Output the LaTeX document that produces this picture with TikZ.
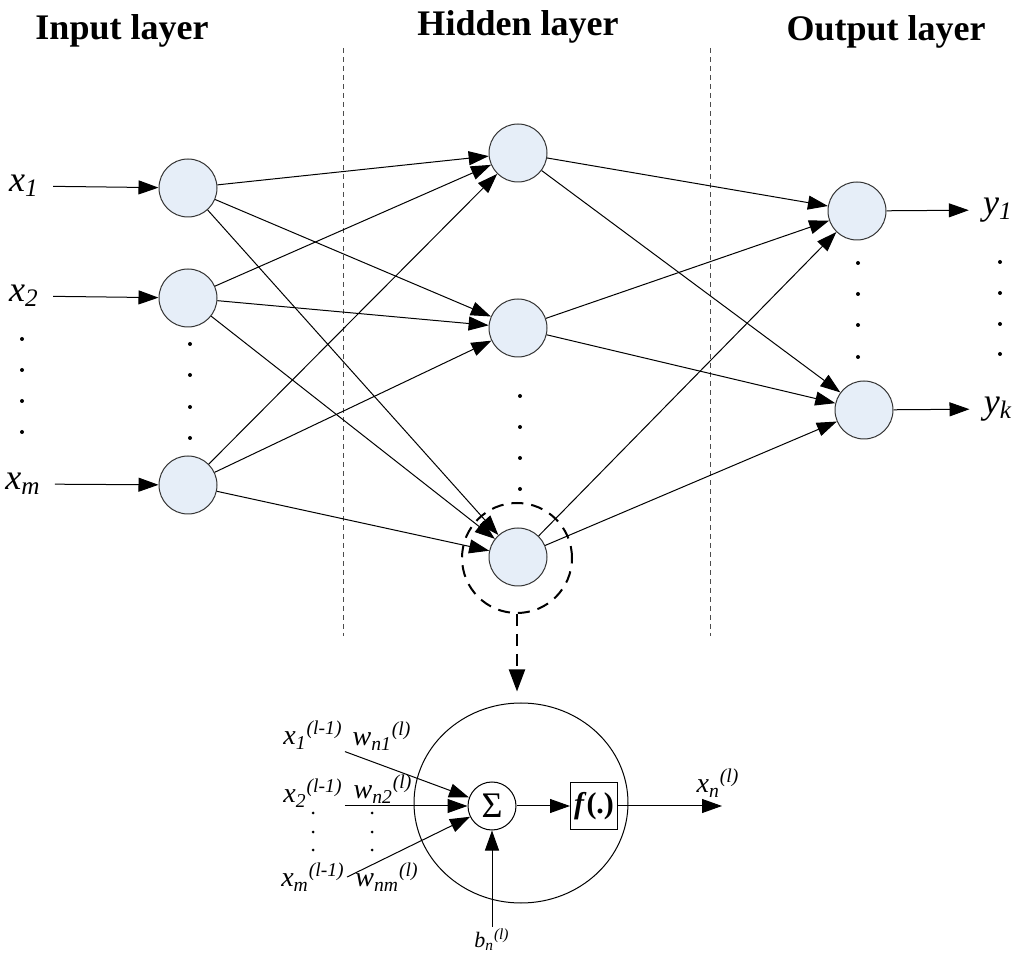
\documentclass[tikz,border=0pt]{standalone}
\usepackage{fontspec}
\setmainfont{Liberation Serif}
\usepackage{tikz}
\usetikzlibrary{arrows.meta, shapes.geometric}
\definecolor{cellblue}{RGB}{230,238,248}
\tikzstyle{neuron} = [circle, draw=black!80, fill=cellblue, line width=0.5pt, minimum size=29pt, inner sep=0pt]
\tikzstyle{title} = [font=\fontsize{18}{20}\selectfont\bfseries]
\tikzstyle{var} = [font=\fontsize{18}{20}\selectfont\itshape, inner sep=1pt]
\tikzstyle{small} = [font=\fontsize{14}{16}\selectfont\itshape, inner sep=1pt]
\tikzstyle{link} = [-{Triangle[length=10pt,width=7pt]}, line width=0.5pt]
\tikzstyle{divider} = [line width=0.4pt, dash pattern=on 2.5pt off 2pt, black!70]

\begin{document}
\begin{tikzpicture}[x=0.5pt, y=-0.5pt]

        \useasboundingbox (0,0) rectangle (1024,962);

        % titles
        \node (tin) [title] at (122,31) {Input layer};
        \node (thid) [title] at (518,27) {Hidden layer};
        \node (tout) [title] at (886,32) {Output layer};

        \draw[divider] (343,48) -- (343,636);
        \draw[divider] (710,48) -- (710,636);

        % neurons
        \node (in1) [neuron] at (188,188) {};
        \node (in2) [neuron] at (188,298) {};
        \node (inm) [neuron] at (188,485) {};

        \node (hid1) [neuron] at (518,153) {};
        \node (hid2) [neuron] at (518,328) {};
        \node (hidn) [neuron] at (518,557) {};

        \node (out1) [neuron] at (857,211) {};
        \node (outk) [neuron] at (864,410) {};

        \node (focus) [circle, draw, line width=1pt, dash pattern=on 6pt off 4pt, minimum size=55pt] at (517,558) {};

        % inputs and outputs
        \node (lx1) [var] at (24,186) {x\textsubscript{1}};
        \node (lx2) [var] at (24,296) {x\textsubscript{2}};
        \node (lxm) [var] at (23,484) {x\textsubscript{m}};
        \node (ly1) [var] at (998,210) {y\textsubscript{1}};
        \node (lyk) [var] at (998,409) {y\textsubscript{k}};

        \draw[link, shorten <=6pt] (lx1) -- (in1);
        \draw[link, shorten <=6pt] (lx2) -- (in2);
        \draw[link, shorten <=6pt] (lxm) -- (inm);
        \draw[link, shorten >=6pt] (out1) -- (ly1);
        \draw[link, shorten >=6pt] (outk) -- (lyk);

        \draw[link] (in1) -- (hid1);
        \draw[link] (in1) -- (hid2);
        \draw[link] (in1) -- (hidn);
        \draw[link] (in2) -- (hid1);
        \draw[link] (in2) -- (hid2);
        \draw[link] (in2) -- (hidn);
        \draw[link] (inm) -- (hid1);
        \draw[link] (inm) -- (hid2);
        \draw[link] (inm) -- (hidn);

        \draw[link] (hid1) -- (out1);
        \draw[link] (hid1) -- (outk);
        \draw[link] (hid2) -- (out1);
        \draw[link] (hid2) -- (outk);
        \draw[link] (hidn) -- (out1);
        \draw[link] (hidn) -- (outk);

        % dots
        \fill (22,339) circle (2) (22,370) circle (2) (22,401) circle (2) (22,432) circle (2);
        \fill (190,344) circle (2) (190,375) circle (2) (190,407) circle (2) (190,438) circle (2);
        \fill (520,396) circle (2) (520,427) circle (2) (520,458) circle (2) (520,489) circle (2);
        \fill (858,263) circle (2) (858,294) circle (2) (858,325) circle (2) (858,357) circle (2);
        \fill (1000,262) circle (2) (1000,293) circle (2) (1000,324) circle (2) (1000,354) circle (2);

        % single neuron
        \node (cell) [ellipse, draw, line width=0.5pt, minimum width=107pt, minimum height=100pt] at (521,803) {};

        \draw[-{Triangle[length=11pt,width=8pt]}, line width=1pt, dash pattern=on 6pt off 4pt, shorten >=5.5pt] (focus.south) -- (focus.south |- cell.north);

        \node (sum) [circle, draw, line width=0.5pt, minimum size=24pt, inner sep=0pt, font=\fontsize{18}{18}\selectfont] at (492,806) {Σ};
        \node (act) [rectangle, draw, line width=0.5pt, minimum size=23.5pt, inner sep=0pt, font=\fontsize{15}{15}\selectfont\bfseries] at (594,806) {\textit{f}(.)};

        \node (bx1) [small] at (313,735) {x\textsubscript{1}\textsuperscript{(l-1)}};
        \node (bx2) [small] at (313,793) {x\textsubscript{2}\textsuperscript{(l-1)}};
        \node (bxm) [small] at (313,877) {x\textsubscript{m}\textsuperscript{(l-1)}};
        \node (wn1) [small] at (382,736) {w\textsubscript{n1}\textsuperscript{(l)}};
        \node (wn2) [small] at (383,789) {w\textsubscript{n2}\textsuperscript{(l)}};
        \node (wnm) [small] at (387,877) {w\textsubscript{nm}\textsuperscript{(l)}};
        \node (lbn) [small, font=\fontsize{11}{13}\selectfont\itshape] at (492,940) {b\textsubscript{n}\textsuperscript{(l)}};
        \node (lxn) [small] at (718,783) {x\textsubscript{n}\textsuperscript{(l)}};
        \coordinate (xout) at (722,806);

        \draw[link] (bx1.south east) -- (sum);
        \draw[link] (bx2.east |- sum) -- (sum);
        \draw[link] (bxm.east) -- (sum);
        \draw[link] (lbn) -- (sum);
        \draw[link] (sum) -- (act);
        \draw[link] (act) -- (xout);

        \fill (313,813) circle (1.5) (313,832) circle (1.5) (313,850) circle (1.5);
        \fill (372,813) circle (1.5) (372,832) circle (1.5) (372,850) circle (1.5);

    \end{tikzpicture}
\end{document}
